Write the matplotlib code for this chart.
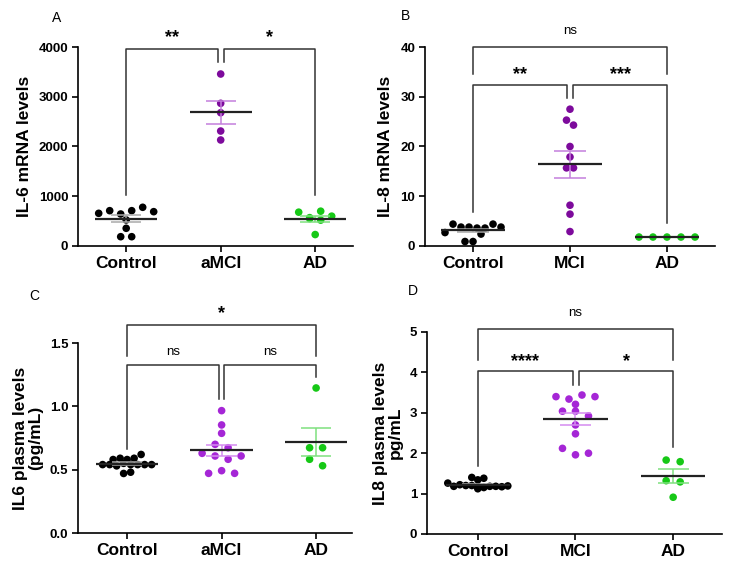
import numpy as np
import matplotlib
matplotlib.use("Agg")
import matplotlib.pyplot as plt

plt.rcParams['font.family'] = ['Liberation Sans', 'DejaVu Sans']

#%% data

# A: IL-6 mRNA
a_groups = ['Control', 'aMCI', 'AD']
a_control = [657, 710, 643, 710, 778, 690, 523, 356, 187, 187]
a_amci = [3457, 2868, 2679, 2311, 2131]
a_ad = [680, 570, 550, 700, 600, 520, 230]

# B: IL-8 mRNA
b_groups = ['Control', 'MCI', 'AD']
b_control = [2.7, 4.4, 3.8, 3.8, 3.6, 3.6, 4.4, 3.8, 0.9, 0.9, 2.4]
b_mci = [27.5, 25.3, 24.3, 20.0, 17.9, 15.7, 15.7, 8.2, 6.4, 2.9]
b_ad = [1.8, 1.8, 1.8, 1.8, 1.8]

# C: IL6 plasma
c_groups = ['Control', 'aMCI', 'AD']
c_control = [0.54, 0.58, 0.59, 0.54, 0.58, 0.53, 0.55, 0.59, 0.54, 0.62,
             0.54, 0.54, 0.54, 0.47, 0.48]
c_amci = [0.966, 0.853, 0.787, 0.700, 0.673, 0.629, 0.608, 0.582, 0.608,
          0.471, 0.492, 0.471]
c_ad = [1.145, 0.673, 0.673, 0.582, 0.531]

# D: IL8 plasma
d_groups = ['Control', 'MCI', 'AD']
d_control = [1.40, 1.26, 1.18, 1.22, 1.34, 1.38, 1.12, 1.20, 1.20, 1.17,
             1.15, 1.18, 1.18, 1.17, 1.19]
d_mci = [3.40, 3.34, 3.44, 3.40, 3.21, 3.04, 3.04, 2.92, 2.70, 2.48, 2.12,
         1.96, 2.00]
d_ad = [1.83, 1.79, 1.32, 1.29, 0.91]

#%% styles
dark_purple = '#7d0a9c'
light_purple = '#a526d6'
green = '#16c816'


def rows_layout(ax, vals, row_h=6.5, gap=10.0):
    # GraphPad-like: bin values into rows, center each row
    fig = ax.figure
    bb = ax.get_position()
    w_px = bb.width * fig.get_figwidth() * fig.dpi
    h_px = bb.height * fig.get_figheight() * fig.dpi
    x0, x1 = ax.get_xlim()
    y0, y1 = ax.get_ylim()
    y = (np.asarray(vals, float) - y0) / (y1 - y0) * h_px
    order = np.argsort(-y, kind='stable')
    xs = np.zeros(len(y))
    row = [order[0]]
    rows = []
    for i in order[1:]:
        if y[row[0]] - y[i] < row_h:
            row.append(i)
        else:
            rows.append(row)
            row = [i]
    rows.append(row)
    for r in rows:
        r = sorted(r)
        n = len(r)
        for k, i in enumerate(r):
            xs[i] = (k - (n - 1) / 2) * gap
    return xs / w_px * (x1 - x0)


def panel(ax, groups, data, colors, ecolors, ylim, yticks, xlim, ylabel, lay):
    ax.set_xlim(xlim)
    ax.set_ylim(ylim)
    for i, (vals, col, ecol) in enumerate(zip(data, colors, ecolors)):
        offs = rows_layout(ax, vals, row_h=lay[i][0], gap=lay[i][1])
        ax.scatter(i + offs, vals, s=30, color=col, edgecolors='none',
                   zorder=3, clip_on=False)
        m = np.mean(vals)
        sem = np.std(vals, ddof=1) / np.sqrt(len(vals))
        ax.errorbar(i, m, yerr=sem, color=ecol, lw=1.1, capsize=0,
                    zorder=4)
        ax.hlines([m - sem, m + sem], i - 0.16, i + 0.16, color=ecol,
                  lw=1.1, zorder=4)
        ax.hlines(m, i - 0.33, i + 0.33, color='#222222', lw=1.6, zorder=5)
    ax.set_xticks(range(len(groups)))
    ax.set_xticklabels(groups, fontsize=12.5, fontweight='bold')
    ax.set_yticks(yticks)
    for t in ax.get_yticklabels():
        t.set_fontweight('bold')
        t.set_fontsize(9.5)
    ax.set_ylabel(ylabel, fontsize=12.5, fontweight='bold', labelpad=5,
                  linespacing=1.0)
    ax.spines['top'].set_visible(False)
    ax.spines['right'].set_visible(False)
    ax.spines['left'].set_linewidth(1.2)
    ax.spines['bottom'].set_linewidth(1.2)
    ax.tick_params(direction='out', length=4, width=1.2, pad=3)


def bracket(ax, x1, x2, ytop, yl, yr, text, bold, pad):
    ax.plot([x1, x1, x2, x2], [yl, ytop, ytop, yr], color='#333333',
            lw=1.1, clip_on=False, zorder=2)
    if bold:
        ax.annotate(text, ((x1 + x2) / 2, ytop), xytext=(0, pad),
                    textcoords='offset points', ha='center', va='bottom',
                    fontsize=13, fontweight='bold', annotation_clip=False)
    else:
        ax.annotate(text, ((x1 + x2) / 2, ytop), xytext=(0, pad),
                    textcoords='offset points', ha='center', va='bottom',
                    fontsize=9.5, annotation_clip=False)


fig = plt.figure(figsize=(7.31, 5.72), dpi=100)
W, H = 731, 572

def add_ax(l, r, t, b):
    return fig.add_axes([l / W, 1 - b / H, (r - l) / W, (b - t) / H])

axA = add_ax(78, 353, 47, 246)
axB = add_ax(425, 715, 47, 246)
axC = add_ax(78, 352, 343, 533)
axD = add_ax(427, 722, 332, 534)

# --- A ---
panel(axA, a_groups, [a_control, a_amci, a_ad],
      ['black', dark_purple, green], ['#aaaaaa', '#c47fdc', '#7fe07f'],
      (0, 4000), [0, 1000, 2000, 3000, 4000], (-0.51, 2.4),
      'IL-6 mRNA levels', [(8, 11), (6.5, 11), (6.5, 11)])
bracket(axA, 0, 0.97, 3955, 1020, 3700, '**', True, 2)
bracket(axA, 1.03, 2, 3955, 3700, 1020, '*', True, 2)

# --- B ---
panel(axB, b_groups, [b_control, b_mci, b_ad],
      ['black', dark_purple, green], ['#aaaaaa', '#c47fdc', '#7fe07f'],
      (0, 40), [0, 10, 20, 30, 40], (-0.495, 2.495),
      'IL-8 mRNA levels', [(9, 8), (6.5, 7), (6.5, 14)])
bracket(axB, 0, 2, 40.1, 34.6, 34.6, 'ns', False, 7)
bracket(axB, 0, 0.97, 32.4, 6.8, 29.7, '**', True, 1)
bracket(axB, 1.035, 2, 32.4, 29.7, 4.6, '***', True, 1)

# --- C ---
panel(axC, c_groups, [c_control, c_amci, c_ad],
      ['black', light_purple, green], ['#aaaaaa', '#d48cf0', '#7fe07f'],
      (0, 1.5), [0.0, 0.5, 1.0, 1.5], (-0.52, 2.38),
      'IL6 plasma levels\n(pg/mL)', [(6, 7), (6.5, 13), (6.5, 13)])
axC.set_yticklabels(['0.0', '0.5', '1.0', '1.5'])
for t in axC.get_yticklabels():
    t.set_fontweight('bold')
    t.set_fontsize(9.5)
bracket(axC, 0, 2, 1.64, 1.40, 1.40, '*', True, 2)
bracket(axC, 0, 0.97, 1.324, 0.666, 1.055, 'ns', False, 5)
bracket(axC, 1.03, 2, 1.324, 1.055, 1.234, 'ns', False, 5)

# --- D ---
panel(axD, d_groups, [d_control, d_mci, d_ad],
      ['black', light_purple, green], ['#aaaaaa', '#d48cf0', '#7fe07f'],
      (0, 5), [0, 1, 2, 3, 4, 5], (-0.52, 2.5),
      'IL8 plasma levels\npg/mL', [(5, 6), (6.5, 13), (6.5, 14)])
bracket(axD, 0, 2, 5.08, 4.31, 4.31, 'ns', False, 7)
bracket(axD, 0, 0.97, 4.03, 1.68, 3.70, '****', True, 1)
bracket(axD, 1.035, 2, 4.03, 3.70, 2.15, '*', True, 1)

# panel letters
for s, x, y in [('A', 57, 18), ('B', 405, 16), ('C', 34, 296), ('D', 413, 291)]:
    fig.text(x / W, 1 - y / H, s, fontsize=10, ha='center', va='center')

fig.savefig('out.png', dpi=100)
